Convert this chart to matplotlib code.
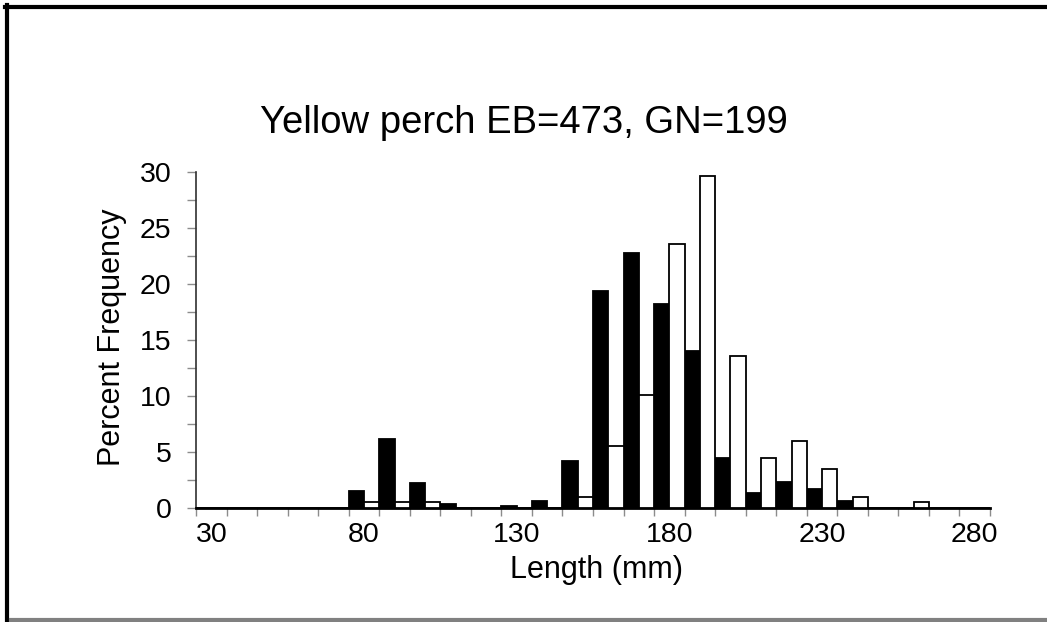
import matplotlib
matplotlib.use("Agg")
import matplotlib.pyplot as plt
from matplotlib.lines import Line2D
import numpy as np

# ---- data ----
categories = list(range(30, 290, 10))          # length classes (mm)
eb = [0, 0, 0, 0, 0, 1.5, 6.2, 2.2, 0.4, 0, 0.2, 0.6, 4.2, 19.4, 22.8,
      18.2, 14.0, 4.5, 1.3, 2.3, 1.7, 0.6, 0, 0, 0, 0]
gn = [0, 0, 0, 0, 0, 0.5, 0.5, 0.5, 0, 0, 0, 0, 1.0, 5.5, 10.1,
      23.6, 29.6, 13.6, 4.5, 6.0, 3.5, 1.0, 0, 0.5, 0, 0]
label_every = 5
title = "Yellow perch EB=473, GN=199"
xlabel = "Length (mm)"
ylabel = "Percent Frequency"
yticks = [0, 5, 10, 15, 20, 25, 30]

plt.rcParams['font.family'] = ['Liberation Sans', 'DejaVu Sans']

W, H = 1047, 622
fig = plt.figure(figsize=(W / 100, H / 100), dpi=100)
fig.patch.set_facecolor('white')

ax_l, ax_r, ax_t, ax_b = 196, 990, 172, 508
ax = fig.add_axes([ax_l / W, 1 - ax_b / H, (ax_r - ax_l) / W, (ax_b - ax_t) / H])

n = len(categories)
idx = np.arange(n)
ax.bar(idx, eb, width=0.5, align='edge', color='black', edgecolor='black',
       linewidth=1.3, zorder=3, clip_on=False)
ax.bar(idx + 0.5, gn, width=0.5, align='edge', color='white', edgecolor='black',
       linewidth=1.3, zorder=3, clip_on=False)

ax.set_xlim(0, n)
ax.set_ylim(0, 30)

# x: tick marks at class boundaries, labels at class centres
ax.set_xticks(np.arange(0, n + 1), minor=True)
lab_idx = idx[::label_every]
ax.set_xticks(lab_idx + 0.5)
ax.set_xticklabels([str(categories[i]) for i in lab_idx])
ax.tick_params(axis='x', which='major', length=0, pad=10, labelsize=20.5)
ax.tick_params(axis='x', which='minor', length=5.5, width=1.0, color='#8c8c8c',
               direction='out')

ax.set_yticks(yticks)
ax.set_yticks(np.arange(0, 30.1, 2.5), minor=True)
ax.tick_params(axis='y', which='both', length=6.5, width=1.0, color='#8c8c8c',
               direction='out')
ax.tick_params(axis='y', which='major', pad=11, labelsize=20.5)

for s in ['top', 'right']:
    ax.spines[s].set_visible(False)
ax.spines['left'].set_color('#303030')
ax.spines['left'].set_linewidth(1.2)
ax.spines['bottom'].set_color('black')
ax.spines['bottom'].set_linewidth(2.0)
ax.set_facecolor('white')

fig.text(524 / W, 1 - 123 / H, title, ha='center', va='center', fontsize=27.5)
fig.text(597 / W, 1 - 570 / H, xlabel, ha='center', va='center', fontsize=22)
fig.text(112 / W, 1 - 337 / H, ylabel, ha='center', va='center', fontsize=22,
         rotation=90)

# outer frame (black top / left, grey bottom)
fig.add_artist(Line2D([5 / W, 1], [1 - 7 / H, 1 - 7 / H], color='black', lw=3,
                      transform=fig.transFigure))
fig.add_artist(Line2D([7 / W, 7 / W], [1 - 5 / H, 0], color='black', lw=3,
                      transform=fig.transFigure))
fig.add_artist(Line2D([11 / W, 1], [1 - 620 / H, 1 - 620 / H], color='#808080',
                      lw=3, transform=fig.transFigure))

fig.savefig("out.png", dpi=100, facecolor='white')
